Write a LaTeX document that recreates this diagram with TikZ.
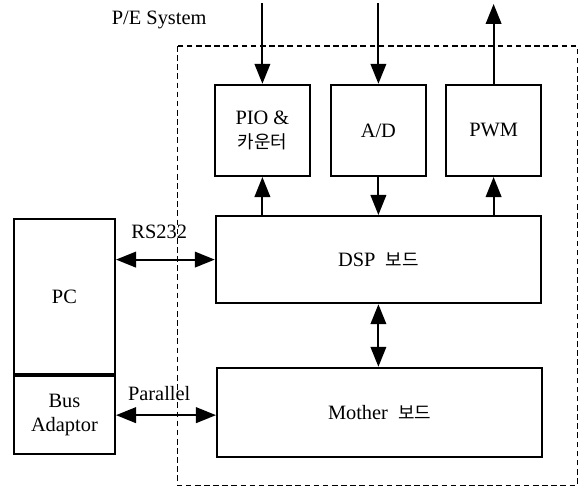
\documentclass[tikz,border=0pt]{standalone}
\usepackage{fontspec}
\setmainfont{Liberation Serif}
\newfontfamily\hangul{Noto Sans CJK KR}[Scale=0.88]
\usetikzlibrary{arrows.meta, positioning}

\begin{document}
\begin{tikzpicture}[
    font=\fontsize{14.5}{17}\selectfont,
    block/.style={rectangle, draw=black, line width=1.6pt, minimum width=#1, align=center, inner sep=2pt},
    block/.default=2.375cm,
    arrow/.style={-{Triangle[length=5mm, width=3.9mm]}, line width=1.4pt},
    biarrow/.style={{Triangle[length=5mm, width=3.9mm]}-{Triangle[length=5mm, width=3.9mm]}, line width=1.4pt},
    frame/.style={draw=black, line width=0.8pt, dash pattern=on 4pt off 2.5pt}
]
\useasboundingbox (0,0) rectangle (14.55,-12.3);

% P/E system boundary
\draw[frame] (4.43,-1.15) rectangle (14.43,-12.13);
\node (system) at (3.98,-0.5) {P/E System};

% I/O modules
\node[block, minimum height=2.275cm] (pio) at (6.56,-3.26) {PIO \&\\{\hangul 카운터}};
\node[block, minimum height=2.275cm] (ad) at (9.46,-3.26) {A/D};
\node[block, minimum height=2.275cm] (pwm) at (12.34,-3.26) {PWM};

% boards
\node[block=8.125cm, minimum height=2.175cm] (dsp) at (9.46,-6.49) {DSP\ \ {\hangul 보드}};
\node[block=8.125cm, minimum height=2.225cm] (mother) at (9.49,-10.31) {Mother\ \ {\hangul 보드}};

% host side
\node[block=2.525cm, minimum height=3.875cm] (pc) at (1.61,-7.41) {PC};
\node[block=2.525cm, minimum height=1.95cm, below=0pt of pc] (bus) {Bus\\Adaptor};

% external signals
\coordinate (pio-in) at (pio.north |- 0,-0.08);
\coordinate (ad-in) at (ad.north |- 0,-0.08);
\coordinate (pwm-out) at (pwm.north |- 0,-0.1);
\draw[arrow] (pio-in) -- (pio.north);
\draw[arrow] (ad-in) -- (ad.north);
\draw[arrow] (pwm.north) -- (pwm-out);

% module <-> DSP
\draw[arrow] (pio.south |- dsp.north) -- (pio.south);
\draw[arrow] (ad.south) -- (ad.south |- dsp.north);
\draw[arrow] (pwm.south |- dsp.north) -- (pwm.south);
\draw[biarrow] (dsp.south) -- (dsp.south |- mother.north);

% links to the PC
\draw[biarrow] (dsp.west -| pc.east) -- (dsp.west);
\draw[biarrow] (bus.east) -- (bus.east -| mother.west);
\node (rs) at (3.98,-5.8) {RS232};
\node (par) at (3.98,-9.83) {Parallel};

\end{tikzpicture}
\end{document}
